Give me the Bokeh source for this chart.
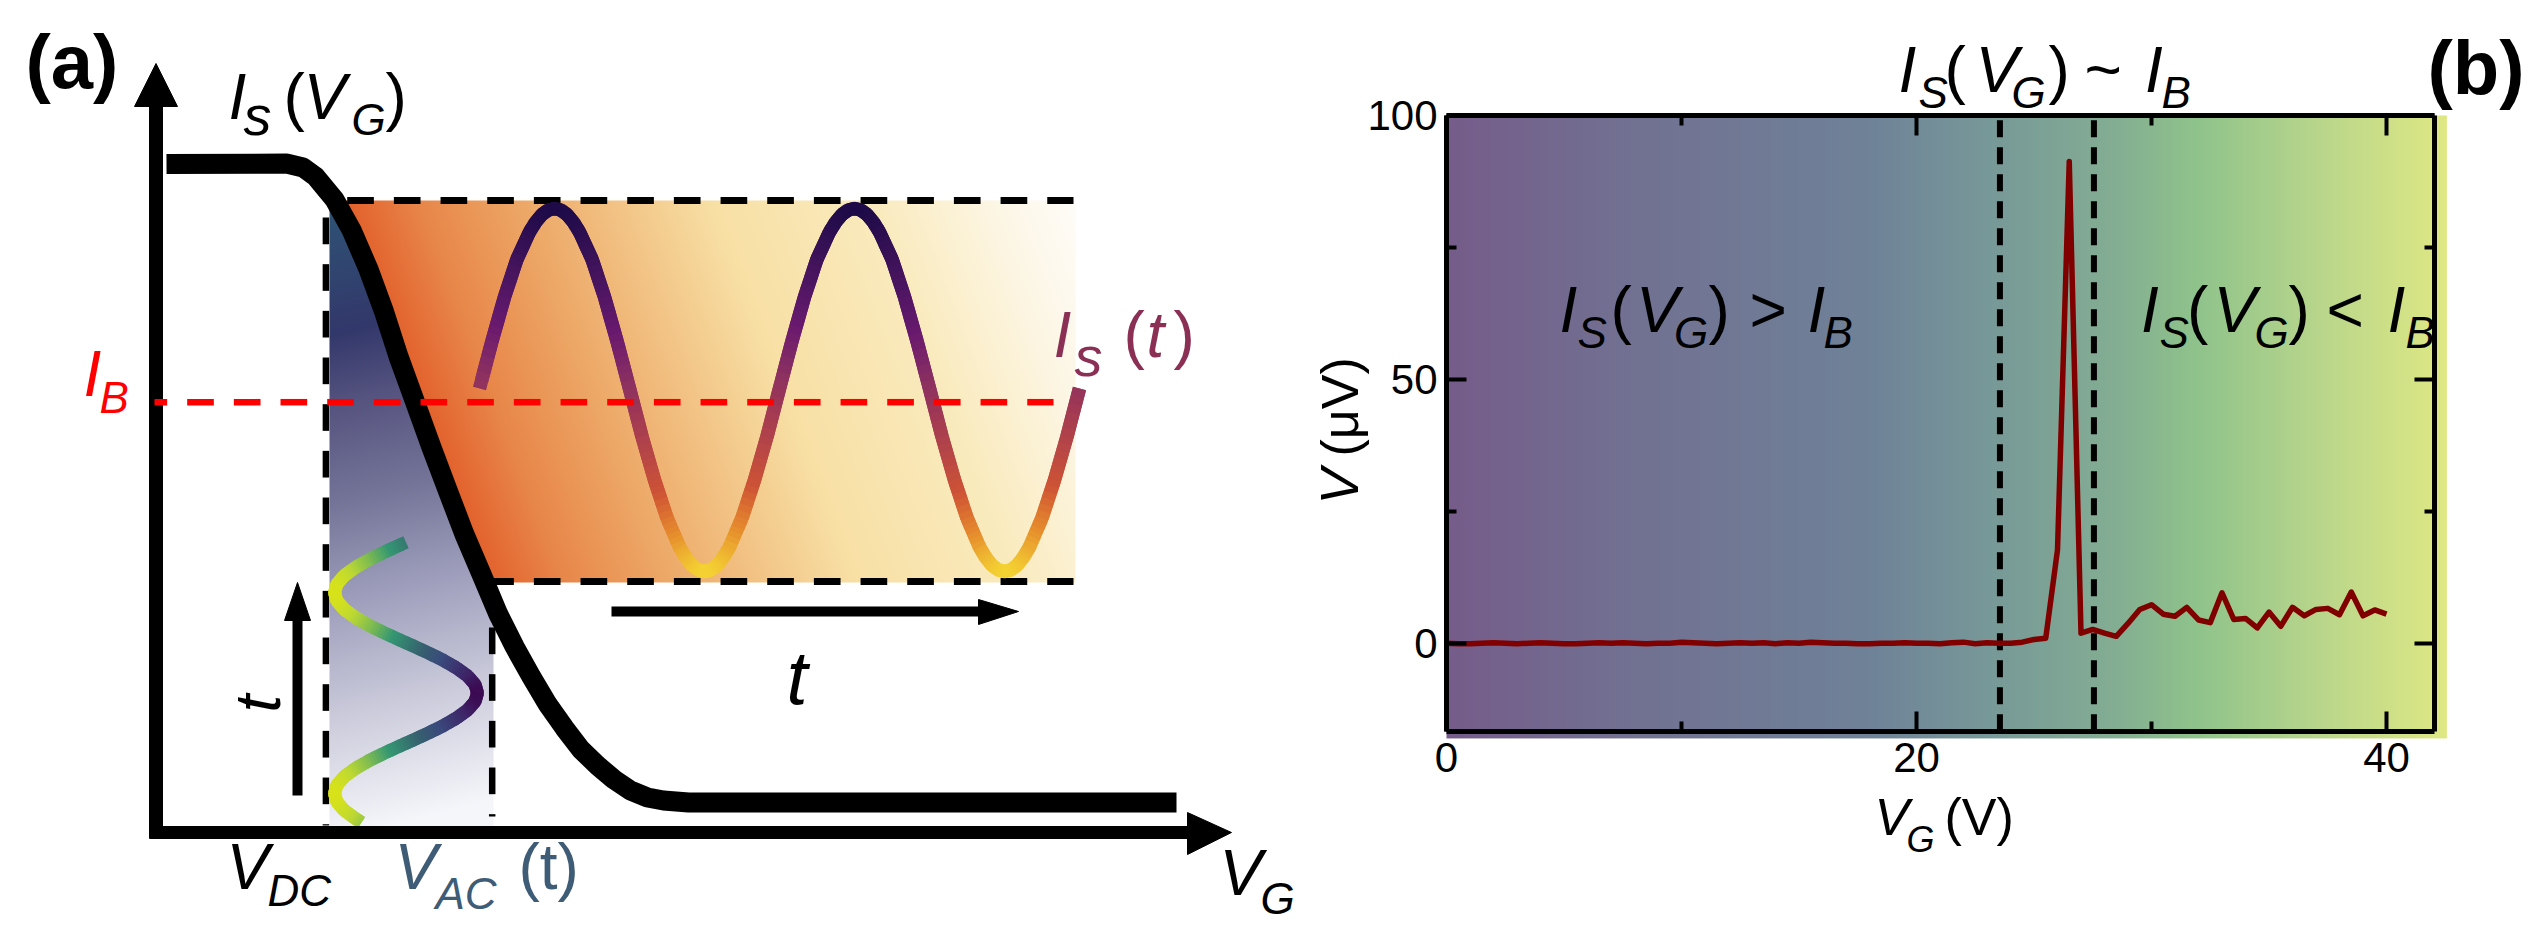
from bokeh.plotting import figure
from bokeh.models import Range1d, Label, LinearAxis, FixedTicker
from bokeh.layouts import row
from bokeh.embed import file_html
from bokeh.resources import INLINE
import numpy as np

FONT = "Liberation Sans"

# ---- panel (a), schematic, in picture pixels
curve_x = [166,286,302.6,315,334,351,368,383.5,398,414.6,431,448,464,481,497.5,514,530.7,547,564,580.4,597,613.6,630,647,663,688,1176]
curve_y = [163.5,163,167,176,199,229.5,268.7,311,356,401.6,447,492,534,573.7,613,646,676,703.5,727.6,749,765,779,790,797,800,802,802]

is_x = [479,491.5,504,516.5,529,535.25,541.5,547.75,554,560.25,566.5,572.75,579,591.5,604,616.5,
        629,641.5,654,666.5,679,685.25,691.5,697.75,704,710.25,716.5,722.75,729,741.5,754,766.5,
        779,791.5,804,816.5,829,835.25,841.5,847.75,854,860.25,866.5,872.75,879,891.5,904,916.5,
        929,941.5,954,966.5,979,985.25,991.5,997.75,1004,1010.25,1016.5,1022.75,1029,1041.5,1054,1066.5,1079]
is_y = [388,340.6,296.5,258.6,231.5,221.5,214,209.5,208,209.5,214,221.5,231.5,258.6,296.5,340.6,
        388,436,479.5,517.4,546.5,557,564.8,569.4,571,569.4,564.8,557,546.5,517.4,479.5,436,
        388,340.6,296.5,258.6,231.5,221.5,214,209.5,208,209.5,214,221.5,231.5,258.6,296.5,340.6,
        388,436,479.5,517.4,546.5,557,564.8,569.4,571,569.4,564.8,557,546.5,517.4,479.5,436,388]

vac_x = [405.5,387,369.7,355,343.6,336.4,334,336.4,343.6,355,369.7,387,405.5,424,441.3,456,467.4,474.6,477,
         474.6,467.4,456,441.3,424,405.5,387,369.7,355,343.6,336.4,334,336.4,343.6,355,361]
vac_y = [541.75,550.1,558.5,566.9,575.25,583.6,592,600.4,608.75,617.1,625.5,633.9,642.25,650.6,659,667.4,675.75,684.1,692.5,
         700.9,709.25,717.6,726,734.4,742.75,751.1,759.5,767.9,776.25,784.6,793,801.4,809.75,818.1,822]

# colour ramps: position, hex
is_ramp = [(208,"#1e0b48"),(280,"#4a1560"),(330,"#6a1a6e"),(385,"#90335f"),(400,"#9a3558"),(440,"#b0424a"),(490,"#cf5435"),(530,"#e58a2d"),(571,"#f4d233")]
vac_ramp = [(334,"#d8e21a"),(350,"#bfd932"),(370,"#7dbb52"),(390,"#349772"),(420,"#36606f"),(440,"#3a4a7c"),(465,"#3e2468"),(477,"#3c0a52")]
orange_ramp = [(0,"#e3622d"),(0.1,"#e8874a"),(0.24,"#eda867"),(0.5,"#f8e0a5"),(0.72,"#faebbe"),(0.9,"#fdf7e8"),(1,"#fffdf9")]
blue_ramp = [(0,"#2f5375"),(0.2,"#33386b"),(0.31,"#55537f"),(0.47,"#757599"),(0.63,"#9f9fbd"),(0.8,"#c9c9da"),(1,"#f5f6fa")]

# ---- panel (b), measured trace
vg = [0,0.5,1,1.5,2,2.5,3,3.5,4,4.5,5,5.5,6,6.5,7,7.5,8,8.5,9,9.5,10,10.5,11,11.5,12,12.5,13,13.5,14,14.5,15,15.5,16,16.5,
      17,17.5,18,18.5,19,19.5,20,20.5,21,21.5,22,22.5,23,23.5,24,24.5,25,25.5,26,26.5,27,27.5,28,28.5,29,29.5,30,30.5,31,31.5,
      32,32.5,33,33.5,34,34.5,35,35.5,36,36.5,37,37.5,38,38.5,39,39.5,40]
v_uv = [0.0,-0.1,-0.1,0.0,0.1,0.0,-0.1,0.0,0.1,0.0,-0.1,-0.1,0.0,0.1,0.0,0.1,0.0,-0.1,0.0,0.0,0.2,0.1,0.0,-0.1,0.0,0.1,0.0,0.1,
        -0.1,0.1,0.0,0.2,0.1,0.0,0.0,-0.1,-0.1,0.0,0.0,0.1,0.0,0.0,-0.1,0.1,0.2,-0.1,0.1,0.0,0.0,0.2,0.7,0.95,17.7,91.3,1.9,2.6,
        1.9,1.3,3.75,6.4,7.3,5.5,5.1,6.8,4.4,3.9,9.56,4.5,4.7,2.9,5.9,3.2,6.8,5.2,6.4,6.6,5.4,9.7,5.2,6.3,5.5]
crossover_vg = [23.55, 27.55]
x_major = [0,20,40]
x_minor = [10,30]
y_major = [0,50,100]
y_minor = [25,75]
bg_ramp = [(0,"#765c8a"),(0.17,"#727092"),(0.42,"#6f8298"),(0.55,"#789a98"),(0.67,"#84ae93"),(0.75,"#8fc38b"),(0.88,"#bbd78b"),(1,"#dfe884")]

SPLIT = 1305
PAGE_W, PAGE_H = 2539, 939
DASH_ON, DASH_PERIOD = 26.67, 46.67


def ramp_rgb(t, ramp):
    pos = [r[0] for r in ramp]
    rgb = [[int(r[1][i:i+2], 16) for i in (1, 3, 5)] for r in ramp]
    return np.stack([np.interp(t, pos, [c[k] for c in rgb]) for k in range(3)], axis=-1)


def to_hex(c):
    return "#%02x%02x%02x" % tuple(int(round(v)) for v in c)


def colored_line(p, xs, ys, keys, ramp, width, n=6):
    # chop every straight piece so the colour can run along the line
    seg_x, seg_y, cols = [], [], []
    px, py, pk = [], [], []
    for i in range(len(xs) - 1):
        for j in range(n):
            f = j / n
            px.append(xs[i] + (xs[i+1] - xs[i]) * f)
            py.append(ys[i] + (ys[i+1] - ys[i]) * f)
            pk.append(keys[i] + (keys[i+1] - keys[i]) * f)
    px.append(xs[-1]); py.append(ys[-1]); pk.append(keys[-1])
    for i in range(len(px) - 1):
        end = min(i + 3, len(px))
        seg_x.append(px[i:end])
        seg_y.append(py[i:end])
        cols.append(to_hex(ramp_rgb(pk[i], ramp)))
    p.multi_line(seg_x, seg_y, line_color=cols, line_width=width, line_join="round", line_cap="butt")


def dashes(first, lo, hi):
    # on-intervals of the dash pattern, cut to lo..hi
    out = []
    s = first
    while s < hi:
        if s + DASH_ON > lo:
            out.append((max(s, lo), min(s + DASH_ON, hi)))
        s += DASH_PERIOD
    return out


def dashed_h(p, y, first, lo, hi, color="black", width=7):
    parts = dashes(first, lo, hi)
    p.segment([a for a, b in parts], [y] * len(parts), [b for a, b in parts], [y] * len(parts),
              line_color=color, line_width=width)


def dashed_v(p, x, first, lo, hi, color="black", width=7):
    parts = dashes(first, lo, hi)
    p.segment([x] * len(parts), [a for a, b in parts], [x] * len(parts), [b for a, b in parts],
              line_color=color, line_width=width)


def text(p, x, y, s, size, color="black", style="italic", angle=0):
    # Label sits a bit under its alphabetic anchor, lift it back
    shift = 0.38 * size
    p.add_layout(Label(x=x, y=y, text=s, text_font=FONT, text_font_size=f"{size}px", text_font_style=style,
                       text_color=color, text_baseline="alphabetic", text_align="left", angle=angle,
                       x_offset=-shift if angle else 0, y_offset=0 if angle else shift))


pa = figure(width=SPLIT, height=PAGE_H, x_range=Range1d(0, SPLIT), y_range=Range1d(PAGE_H, 0),
            output_backend="svg", toolbar_location=None, min_border=0)
pa.frame_align = False
pa.axis.visible = False
pa.grid.visible = False
pa.outline_line_color = None

# shaded regions follow the black curve
xx, yy = np.meshgrid(np.arange(345, 1075), np.arange(200, 582))
edge = np.interp(yy, curve_y, curve_x)
t = (xx - 345 - 0.38 * (yy - 200)) / 730
orange = np.zeros(xx.shape + (4,), dtype=np.uint8)
orange[..., :3] = ramp_rgb(np.clip(t, 0, 1), orange_ramp)
orange[..., 3] = np.where(xx > edge, 255, 0)
pa.image_rgba(image=[orange.view(np.uint32).reshape(xx.shape)], x=345, y=200, dw=730, dh=382)

xx, yy = np.meshgrid(np.arange(329, 493), np.arange(208, 826))
edge = np.interp(yy, curve_y, curve_x)
t = (yy - 208 + 0.25 * (xx - 329)) / 630
blue = np.zeros(xx.shape + (4,), dtype=np.uint8)
blue[..., :3] = ramp_rgb(np.clip(t, 0, 1), blue_ramp)
blue[..., 3] = np.where(xx < edge, 255, 0)
pa.image_rgba(image=[blue.view(np.uint32).reshape(xx.shape)], x=329, y=208, dw=164, dh=618)

# black dashed guides
dashed_h(pa, 200, 346.7, 346.7, 1073)
dashed_h(pa, 581, 486.7, 486.7, 1073)
dashed_v(pa, 325.4, 217, 217, 825, width=6.5)
dashed_v(pa, 491.7, 627, 627, 816, width=6.5)

colored_line(pa, is_x, is_y, is_y, is_ramp, 13.5)
colored_line(pa, vac_x, vac_y, vac_x, vac_ramp, 13)

pa.line(curve_x, curve_y, line_color="black", line_width=20, line_join="round")

# axes and arrows
pa.line([155.5, 155.5], [838, 100], line_color="black", line_width=14)
pa.line([149, 1190], [832, 832], line_color="black", line_width=13)
pa.patch([134, 155.5, 177], [106, 63, 106], color="black")
pa.patch([1187, 1231, 1187], [812, 832, 854], color="black")
pa.line([297, 297], [795, 618], line_color="black", line_width=10)
pa.patch([284, 297, 310], [620, 582, 620], color="black")
pa.line([611, 982], [611, 611], line_color="black", line_width=10)
pa.patch([978, 1018, 978], [599, 611, 624], color="black")

dashed_h(pa, 401.7, 140, 154, 1053, color="#ff0000", width=6.5)

text(pa, 25, 90, "(a)", 76, style="bold")
text(pa, 228, 121, "I", 64)
text(pa, 243, 136, "s", 56)
text(pa, 283, 121, "(", 64, style="normal")
text(pa, 303, 121, "V", 64)
text(pa, 351, 136, "G", 44)
text(pa, 385, 121, ")", 64, style="normal")
text(pa, 83, 398, "I", 64, color="#ff0000")
text(pa, 99, 414, "B", 44, color="#ff0000")
text(pa, 1053, 359, "I", 64, color="#8b2f55")
text(pa, 1074, 377, "s", 56, color="#8b2f55")
text(pa, 1123, 359, "(", 64, color="#8b2f55", style="normal")
text(pa, 1146, 359, "t", 64, color="#8b2f55")
text(pa, 1173, 359, ")", 64, color="#8b2f55", style="normal")
text(pa, 786, 706, "t", 76)
text(pa, 282, 712, "t", 64, angle=np.pi / 2)
text(pa, 226, 891, "V", 64)
text(pa, 267, 907, "DC", 44)
text(pa, 394, 891, "V", 64, color="#3e5c76")
text(pa, 435, 910, "AC", 44, color="#3e5c76")
text(pa, 518, 891, "(t)", 64, color="#3e5c76", style="normal")
text(pa, 1219, 897, "V", 64)
text(pa, 1260, 915, "G", 44)


# ---- panel (b): frame fills the whole figure, axes are pinned to the box
def bx(px):
    return (px - 1446) / 23.5


def by(py):
    return 100 - (py - 115) / 5.277


X_END, Y_BOTTOM = 42.06, -16.67
pb = figure(width=PAGE_W - SPLIT, height=PAGE_H, x_range=Range1d(bx(SPLIT), bx(PAGE_W)), y_range=Range1d(by(PAGE_H), by(0)),
            output_backend="svg", toolbar_location=None, min_border=0,
            x_axis_location=None, y_axis_location=None)
pb.frame_align = False
pb.grid.visible = False
pb.outline_line_color = None

bg = np.zeros((1, 1000, 4), dtype=np.uint8)
bg[..., :3] = ramp_rgb(np.arange(1000) / 999, bg_ramp)
bg[..., 3] = 255
pb.image_rgba(image=[bg.view(np.uint32).reshape(1, 1000)], x=0, y=-18.05, dw=42.57, dh=118.05)

xticks = FixedTicker(ticks=x_major, minor_ticks=x_minor)
yticks = FixedTicker(ticks=y_major, minor_ticks=y_minor)


def style_axis(ax, hide=None):
    ax.axis_line_width = 5
    ax.axis_line_color = "black"
    ax.major_tick_line_width = 4
    ax.minor_tick_line_width = 4
    ax.major_tick_out = 0
    ax.minor_tick_out = 0
    ax.major_tick_in = 20
    ax.minor_tick_in = 10
    ax.major_label_text_font = FONT
    ax.major_label_text_font_size = "42px"
    ax.major_label_text_color = "black"
    ax.major_label_standoff = 9
    if hide:
        ax.major_label_overrides = {k: "" for k in hide}


left = LinearAxis(ticker=yticks, bounds=(Y_BOTTOM, 100), fixed_location=0)
style_axis(left)
pb.add_layout(left, "left")
top = LinearAxis(ticker=xticks, bounds=(0, X_END), fixed_location=100)
style_axis(top, hide=x_major)
pb.add_layout(top, "above")
bottom = LinearAxis(ticker=xticks, bounds=(0, X_END), fixed_location=Y_BOTTOM)
style_axis(bottom)
bottom.major_label_standoff = 12
pb.add_layout(bottom, "below")
right = LinearAxis(ticker=yticks, bounds=(Y_BOTTOM, 100), fixed_location=X_END)
style_axis(right, hide=y_major)
pb.add_layout(right, "right")

for v in crossover_vg:
    pb.line([v, v], [Y_BOTTOM, 100], line_color="black", line_width=6, line_dash=[17, 10])
pb.line(vg, v_uv, line_color="#800000", line_width=5.5, line_join="round")


def btext(px, py, s, size, style="italic", angle=0):
    text(pb, bx(px), by(py), s, size, style=style, angle=angle)


btext(2427, 96, "(b)", 76, style="bold")
for y0, parts in [
    (93.6, [(1898, "I"), (1918, "S"), (1944, "("), (1975, "V"), (2011, "G"), (2048, ")"), (2084, "~"), (2144.6, "I"), (2161, "B")]),
    (334, [(1559, "I"), (1577, "S"), (1610, "("), (1635.5, "V"), (1673.5, "G"), (1708, ")"), (1749, ">"), (1807, "I"), (1823, "B")]),
    (334, [(2140.5, "I"), (2159, "S"), (2186.6, "("), (2213, "V"), (2254, "G"), (2288, ")"), (2326, "<"), (2387, "I"), (2405, "B")]),
]:
    for px, s in parts:
        if s in "SGB":
            btext(px, y0 + 15, s, 44)
        elif s in "()>~<":
            btext(px, y0, s, 64, style="normal")
        else:
            btext(px, y0, s, 64)

btext(1874, 836, "V", 52)
btext(1906, 853, "G", 36)
btext(1944, 836, "(V)", 52, style="normal")
btext(1359, 504, "V", 54, angle=np.pi / 2)
btext(1359, 456, "(\u03bcV)", 52, style="normal", angle=np.pi / 2)

open("out.html", "w").write(file_html(row(pa, pb), INLINE))
